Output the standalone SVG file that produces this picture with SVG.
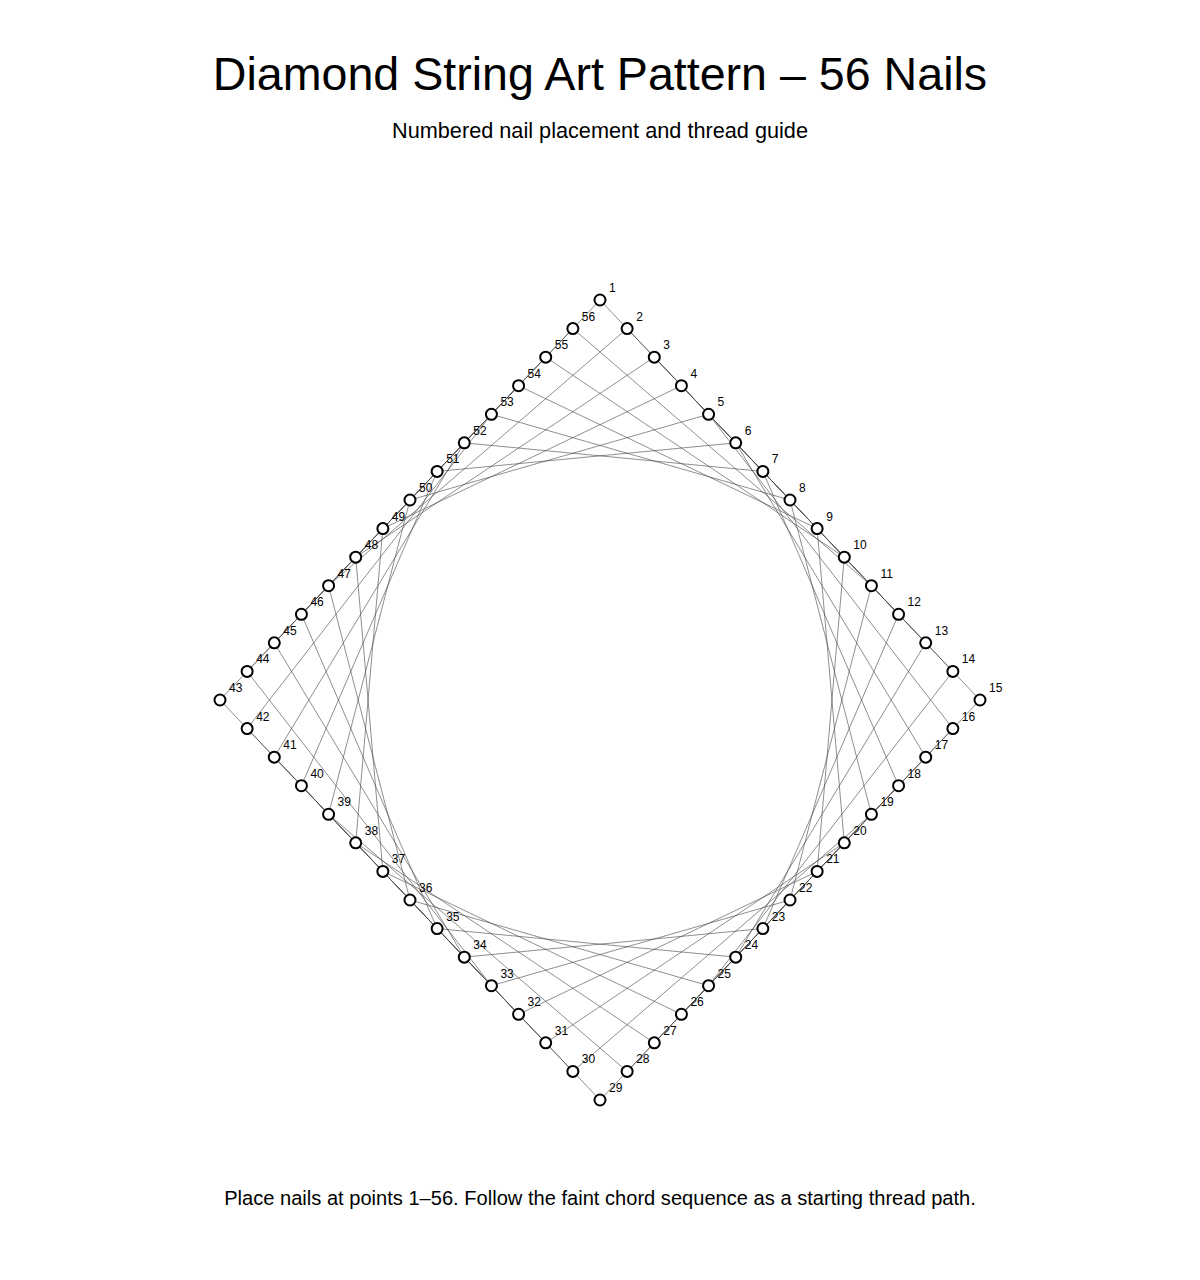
<svg xmlns="http://www.w3.org/2000/svg" width="1200" height="1280" viewBox="0 0 1200 1280">
<style>
.title{font-family:"Liberation Sans",Arial,sans-serif;font-size:46.6px;fill:#000;text-anchor:middle}
.sub{font-family:"Liberation Sans",Arial,sans-serif;font-size:21.7px;fill:#000;text-anchor:middle}
.foot{font-family:"Liberation Sans",Arial,sans-serif;font-size:20.1px;fill:#000;text-anchor:middle}
.lbl{font-family:"Liberation Sans",Arial,sans-serif;font-size:12px;fill:#000}
.chords line{stroke:#444;stroke-opacity:0.6;stroke-width:1;fill:none}
.nail circle{fill:#fff;stroke:#000;stroke-width:2}
</style>
<rect width="1200" height="1280" fill="#fff"/>
<text class="title" x="600" y="90">Diamond String Art Pattern – 56 Nails</text>
<text class="sub" x="600" y="138">Numbered nail placement and thread guide</text>
<g id="connectors" class="chords">
<line x1="600" y1="300" x2="898.57" y2="614.29"/>
<line x1="627.14" y1="328.57" x2="925.71" y2="642.86"/>
<line x1="654.29" y1="357.14" x2="952.86" y2="671.43"/>
<line x1="681.43" y1="385.71" x2="980" y2="700"/>
<line x1="708.57" y1="414.29" x2="952.86" y2="728.57"/>
<line x1="735.71" y1="442.86" x2="925.71" y2="757.14"/>
<line x1="762.86" y1="471.43" x2="898.57" y2="785.71"/>
<line x1="790" y1="500" x2="871.43" y2="814.29"/>
<line x1="817.14" y1="528.57" x2="844.29" y2="842.86"/>
<line x1="844.29" y1="557.14" x2="817.14" y2="871.43"/>
<line x1="871.43" y1="585.71" x2="790" y2="900"/>
<line x1="898.57" y1="614.29" x2="762.86" y2="928.57"/>
<line x1="925.71" y1="642.86" x2="735.71" y2="957.14"/>
<line x1="952.86" y1="671.43" x2="708.57" y2="985.71"/>
<line x1="980" y1="700" x2="681.43" y2="1014.29"/>
<line x1="952.86" y1="728.57" x2="654.29" y2="1042.86"/>
<line x1="925.71" y1="757.14" x2="627.14" y2="1071.43"/>
<line x1="898.57" y1="785.71" x2="600" y2="1100"/>
<line x1="871.43" y1="814.29" x2="572.86" y2="1071.43"/>
<line x1="844.29" y1="842.86" x2="545.71" y2="1042.86"/>
<line x1="817.14" y1="871.43" x2="518.57" y2="1014.29"/>
<line x1="790" y1="900" x2="491.43" y2="985.71"/>
<line x1="762.86" y1="928.57" x2="464.29" y2="957.14"/>
<line x1="735.71" y1="957.14" x2="437.14" y2="928.57"/>
<line x1="708.57" y1="985.71" x2="410" y2="900"/>
<line x1="681.43" y1="1014.29" x2="382.86" y2="871.43"/>
<line x1="654.29" y1="1042.86" x2="355.71" y2="842.86"/>
<line x1="627.14" y1="1071.43" x2="328.57" y2="814.29"/>
<line x1="600" y1="1100" x2="301.43" y2="785.71"/>
<line x1="572.86" y1="1071.43" x2="274.29" y2="757.14"/>
<line x1="545.71" y1="1042.86" x2="247.14" y2="728.57"/>
<line x1="518.57" y1="1014.29" x2="220" y2="700"/>
<line x1="491.43" y1="985.71" x2="247.14" y2="671.43"/>
<line x1="464.29" y1="957.14" x2="274.29" y2="642.86"/>
<line x1="437.14" y1="928.57" x2="301.43" y2="614.29"/>
<line x1="410" y1="900" x2="328.57" y2="585.71"/>
<line x1="382.86" y1="871.43" x2="355.71" y2="557.14"/>
<line x1="355.71" y1="842.86" x2="382.86" y2="528.57"/>
<line x1="328.57" y1="814.29" x2="410" y2="500"/>
<line x1="301.43" y1="785.71" x2="437.14" y2="471.43"/>
<line x1="274.29" y1="757.14" x2="464.29" y2="442.86"/>
<line x1="247.14" y1="728.57" x2="491.43" y2="414.29"/>
<line x1="220" y1="700" x2="518.57" y2="385.71"/>
<line x1="247.14" y1="671.43" x2="545.71" y2="357.14"/>
<line x1="274.29" y1="642.86" x2="572.86" y2="328.57"/>
<line x1="301.43" y1="614.29" x2="600" y2="300"/>
<line x1="328.57" y1="585.71" x2="627.14" y2="328.57"/>
<line x1="355.71" y1="557.14" x2="654.29" y2="357.14"/>
<line x1="382.86" y1="528.57" x2="681.43" y2="385.71"/>
<line x1="410" y1="500" x2="708.57" y2="414.29"/>
<line x1="437.14" y1="471.43" x2="735.71" y2="442.86"/>
<line x1="464.29" y1="442.86" x2="762.86" y2="471.43"/>
<line x1="491.43" y1="414.29" x2="790" y2="500"/>
<line x1="518.57" y1="385.71" x2="817.14" y2="528.57"/>
<line x1="545.71" y1="357.14" x2="844.29" y2="557.14"/>
<line x1="572.86" y1="328.57" x2="871.43" y2="585.71"/>
</g>
<g id="nails">
<g id="nail-1" class="nail"><circle cx="600" cy="300" r="5.5"/><text class="lbl" x="609" y="292">1</text></g>
<g id="nail-2" class="nail"><circle cx="627.14" cy="328.57" r="5.5"/><text class="lbl" x="636.14" y="320.57">2</text></g>
<g id="nail-3" class="nail"><circle cx="654.29" cy="357.14" r="5.5"/><text class="lbl" x="663.29" y="349.14">3</text></g>
<g id="nail-4" class="nail"><circle cx="681.43" cy="385.71" r="5.5"/><text class="lbl" x="690.43" y="377.71">4</text></g>
<g id="nail-5" class="nail"><circle cx="708.57" cy="414.29" r="5.5"/><text class="lbl" x="717.57" y="406.29">5</text></g>
<g id="nail-6" class="nail"><circle cx="735.71" cy="442.86" r="5.5"/><text class="lbl" x="744.71" y="434.86">6</text></g>
<g id="nail-7" class="nail"><circle cx="762.86" cy="471.43" r="5.5"/><text class="lbl" x="771.86" y="463.43">7</text></g>
<g id="nail-8" class="nail"><circle cx="790" cy="500" r="5.5"/><text class="lbl" x="799" y="492">8</text></g>
<g id="nail-9" class="nail"><circle cx="817.14" cy="528.57" r="5.5"/><text class="lbl" x="826.14" y="520.57">9</text></g>
<g id="nail-10" class="nail"><circle cx="844.29" cy="557.14" r="5.5"/><text class="lbl" x="853.29" y="549.14">10</text></g>
<g id="nail-11" class="nail"><circle cx="871.43" cy="585.71" r="5.5"/><text class="lbl" x="880.43" y="577.71">11</text></g>
<g id="nail-12" class="nail"><circle cx="898.57" cy="614.29" r="5.5"/><text class="lbl" x="907.57" y="606.29">12</text></g>
<g id="nail-13" class="nail"><circle cx="925.71" cy="642.86" r="5.5"/><text class="lbl" x="934.71" y="634.86">13</text></g>
<g id="nail-14" class="nail"><circle cx="952.86" cy="671.43" r="5.5"/><text class="lbl" x="961.86" y="663.43">14</text></g>
<g id="nail-15" class="nail"><circle cx="980" cy="700" r="5.5"/><text class="lbl" x="989" y="692">15</text></g>
<g id="nail-16" class="nail"><circle cx="952.86" cy="728.57" r="5.5"/><text class="lbl" x="961.86" y="720.57">16</text></g>
<g id="nail-17" class="nail"><circle cx="925.71" cy="757.14" r="5.5"/><text class="lbl" x="934.71" y="749.14">17</text></g>
<g id="nail-18" class="nail"><circle cx="898.57" cy="785.71" r="5.5"/><text class="lbl" x="907.57" y="777.71">18</text></g>
<g id="nail-19" class="nail"><circle cx="871.43" cy="814.29" r="5.5"/><text class="lbl" x="880.43" y="806.29">19</text></g>
<g id="nail-20" class="nail"><circle cx="844.29" cy="842.86" r="5.5"/><text class="lbl" x="853.29" y="834.86">20</text></g>
<g id="nail-21" class="nail"><circle cx="817.14" cy="871.43" r="5.5"/><text class="lbl" x="826.14" y="863.43">21</text></g>
<g id="nail-22" class="nail"><circle cx="790" cy="900" r="5.5"/><text class="lbl" x="799" y="892">22</text></g>
<g id="nail-23" class="nail"><circle cx="762.86" cy="928.57" r="5.5"/><text class="lbl" x="771.86" y="920.57">23</text></g>
<g id="nail-24" class="nail"><circle cx="735.71" cy="957.14" r="5.5"/><text class="lbl" x="744.71" y="949.14">24</text></g>
<g id="nail-25" class="nail"><circle cx="708.57" cy="985.71" r="5.5"/><text class="lbl" x="717.57" y="977.71">25</text></g>
<g id="nail-26" class="nail"><circle cx="681.43" cy="1014.29" r="5.5"/><text class="lbl" x="690.43" y="1006.29">26</text></g>
<g id="nail-27" class="nail"><circle cx="654.29" cy="1042.86" r="5.5"/><text class="lbl" x="663.29" y="1034.86">27</text></g>
<g id="nail-28" class="nail"><circle cx="627.14" cy="1071.43" r="5.5"/><text class="lbl" x="636.14" y="1063.43">28</text></g>
<g id="nail-29" class="nail"><circle cx="600" cy="1100" r="5.5"/><text class="lbl" x="609" y="1092">29</text></g>
<g id="nail-30" class="nail"><circle cx="572.86" cy="1071.43" r="5.5"/><text class="lbl" x="581.86" y="1063.43">30</text></g>
<g id="nail-31" class="nail"><circle cx="545.71" cy="1042.86" r="5.5"/><text class="lbl" x="554.71" y="1034.86">31</text></g>
<g id="nail-32" class="nail"><circle cx="518.57" cy="1014.29" r="5.5"/><text class="lbl" x="527.57" y="1006.29">32</text></g>
<g id="nail-33" class="nail"><circle cx="491.43" cy="985.71" r="5.5"/><text class="lbl" x="500.43" y="977.71">33</text></g>
<g id="nail-34" class="nail"><circle cx="464.29" cy="957.14" r="5.5"/><text class="lbl" x="473.29" y="949.14">34</text></g>
<g id="nail-35" class="nail"><circle cx="437.14" cy="928.57" r="5.5"/><text class="lbl" x="446.14" y="920.57">35</text></g>
<g id="nail-36" class="nail"><circle cx="410" cy="900" r="5.5"/><text class="lbl" x="419" y="892">36</text></g>
<g id="nail-37" class="nail"><circle cx="382.86" cy="871.43" r="5.5"/><text class="lbl" x="391.86" y="863.43">37</text></g>
<g id="nail-38" class="nail"><circle cx="355.71" cy="842.86" r="5.5"/><text class="lbl" x="364.71" y="834.86">38</text></g>
<g id="nail-39" class="nail"><circle cx="328.57" cy="814.29" r="5.5"/><text class="lbl" x="337.57" y="806.29">39</text></g>
<g id="nail-40" class="nail"><circle cx="301.43" cy="785.71" r="5.5"/><text class="lbl" x="310.43" y="777.71">40</text></g>
<g id="nail-41" class="nail"><circle cx="274.29" cy="757.14" r="5.5"/><text class="lbl" x="283.29" y="749.14">41</text></g>
<g id="nail-42" class="nail"><circle cx="247.14" cy="728.57" r="5.5"/><text class="lbl" x="256.14" y="720.57">42</text></g>
<g id="nail-43" class="nail"><circle cx="220" cy="700" r="5.5"/><text class="lbl" x="229" y="692">43</text></g>
<g id="nail-44" class="nail"><circle cx="247.14" cy="671.43" r="5.5"/><text class="lbl" x="256.14" y="663.43">44</text></g>
<g id="nail-45" class="nail"><circle cx="274.29" cy="642.86" r="5.5"/><text class="lbl" x="283.29" y="634.86">45</text></g>
<g id="nail-46" class="nail"><circle cx="301.43" cy="614.29" r="5.5"/><text class="lbl" x="310.43" y="606.29">46</text></g>
<g id="nail-47" class="nail"><circle cx="328.57" cy="585.71" r="5.5"/><text class="lbl" x="337.57" y="577.71">47</text></g>
<g id="nail-48" class="nail"><circle cx="355.71" cy="557.14" r="5.5"/><text class="lbl" x="364.71" y="549.14">48</text></g>
<g id="nail-49" class="nail"><circle cx="382.86" cy="528.57" r="5.5"/><text class="lbl" x="391.86" y="520.57">49</text></g>
<g id="nail-50" class="nail"><circle cx="410" cy="500" r="5.5"/><text class="lbl" x="419" y="492">50</text></g>
<g id="nail-51" class="nail"><circle cx="437.14" cy="471.43" r="5.5"/><text class="lbl" x="446.14" y="463.43">51</text></g>
<g id="nail-52" class="nail"><circle cx="464.29" cy="442.86" r="5.5"/><text class="lbl" x="473.29" y="434.86">52</text></g>
<g id="nail-53" class="nail"><circle cx="491.43" cy="414.29" r="5.5"/><text class="lbl" x="500.43" y="406.29">53</text></g>
<g id="nail-54" class="nail"><circle cx="518.57" cy="385.71" r="5.5"/><text class="lbl" x="527.57" y="377.71">54</text></g>
<g id="nail-55" class="nail"><circle cx="545.71" cy="357.14" r="5.5"/><text class="lbl" x="554.71" y="349.14">55</text></g>
<g id="nail-56" class="nail"><circle cx="572.86" cy="328.57" r="5.5"/><text class="lbl" x="581.86" y="320.57">56</text></g>
</g>
<text class="foot" x="600" y="1205">Place nails at points 1–56. Follow the faint chord sequence as a starting thread path.</text>
</svg>
